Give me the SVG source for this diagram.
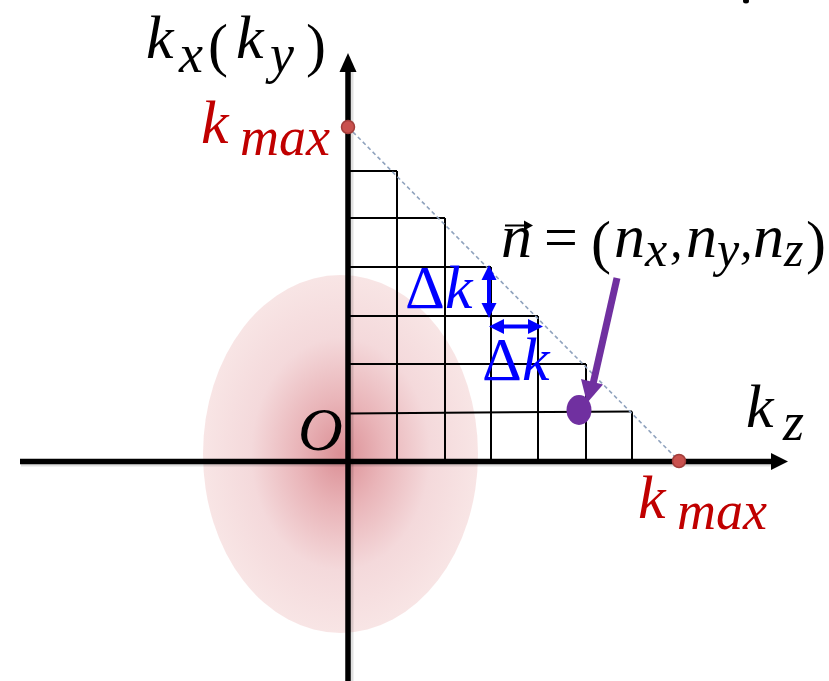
<svg xmlns="http://www.w3.org/2000/svg" width="829" height="681" viewBox="0 0 829 681">
<defs>
<radialGradient id="glow" cx="0.5" cy="0.5" r="0.5">
<stop offset="0" stop-color="#db8f95"/>
<stop offset="0.3" stop-color="#e9b4b8"/>
<stop offset="0.65" stop-color="#f4d9db"/>
<stop offset="1" stop-color="#f8e5e5"/>
</radialGradient>
<style>
.m{font-family:"Liberation Serif","DejaVu Serif",serif;font-style:italic;font-size:62px;fill:#000}
.s{font-size:54px}
.c{font-size:50px}
.u{font-family:"Liberation Serif","DejaVu Serif",serif;font-style:normal;font-size:60px;fill:#000}
.up{font-style:normal}
.red{fill:#c00000}
.blue{fill:#0000ff}
.grid{stroke:#000;stroke-width:2;fill:none}
.axis{stroke:#000;stroke-width:5.5;fill:none}
.shadow{stroke:#000;stroke-width:5;opacity:0.12;fill:none}
.dot{fill:#c9514e;stroke:#a23d3a;stroke-width:1.5}
.barrow{stroke:#0000ff;stroke-width:4}
</style>
</defs>
<rect width="829" height="681" fill="#fff"/>
<g id="cloud">
<ellipse cx="340.5" cy="454" rx="137.5" ry="179" fill="url(#glow)"/>
</g>
<g id="grid">
<path class="grid" d="M348 171H397M348 218H445M348 267H491M348 316H538M348 364H586M348 413.5L632 411.5"/>
<path class="grid" d="M397 171V461M445 218V461M491 267V461M538 316V461M586 364V461M632 411.5V461"/>
</g>
<g id="diagonal">
<line x1="348" y1="127" x2="679" y2="461" stroke="#8fa2bd" stroke-width="1.6" stroke-dasharray="4 3"/>
</g>
<g id="axes">
<line class="shadow" x1="21" y1="464" x2="772" y2="464"/>
<line class="shadow" x1="351" y1="72" x2="351" y2="681"/>
<line class="axis" x1="20" y1="461.5" x2="774" y2="461.5"/>
<polygon points="788,461.5 771,453 771,470" fill="#000"/>
<line class="axis" x1="348" y1="70" x2="348" y2="681"/>
<polygon points="348,53 339.5,72 356.5,72" fill="#000"/>
</g>
<g id="kmax-points">
<circle class="dot" cx="348" cy="127" r="6.5"/>
<circle class="dot" cx="679" cy="461" r="6.5"/>
</g>
<g id="delta-arrows">
<line class="barrow" x1="489" y1="276" x2="489" y2="307"/>
<polygon points="489,265 481.5,280 496.5,280" class="blue"/>
<polygon points="489,318 481.5,303 496.5,303" class="blue"/>
<line class="barrow" x1="500" y1="326.5" x2="532" y2="326.5"/>
<polygon points="489,326.5 504,319 504,334" class="blue"/>
<polygon points="543,326.5 528,319 528,334" class="blue"/>
</g>
<g id="n-pointer">
<line x1="617" y1="278" x2="593" y2="384" stroke="#7030a0" stroke-width="7"/>
<polygon points="587,403 603,384.5 581,379" fill="#7030a0"/>
<ellipse cx="579" cy="410" rx="12.5" ry="15" fill="#7030a0"/>
</g>
<g id="vector-accent">
<line x1="505" y1="225.5" x2="528" y2="225.5" stroke="#000" stroke-width="2"/>
<polygon points="533,225.5 524,220.5 524,230.5" fill="#000"/>
</g>
<g id="labels">
<text class="m"><tspan x="146" y="58">k</tspan><tspan class="s" x="179" y="72">x</tspan></text>
<text class="u" x="208" y="65" font-size="80">(</text>
<text class="m"><tspan x="236" y="58">k</tspan><tspan class="s" x="270" y="72">y</tspan></text>
<text class="u" x="306" y="65" font-size="80">)</text>
<text class="m red"><tspan x="201" y="143">k</tspan><tspan class="s" x="240" y="155">max</tspan></text>
<text class="m red"><tspan x="638" y="518">k</tspan><tspan class="s" x="677" y="529">max</tspan></text>
<text class="m"><tspan x="746" y="427">k</tspan><tspan class="s" x="783" y="440">z</tspan></text>
<text class="m" x="298" y="450">O</text>
<text class="m blue" x="405" y="308"><tspan class="up">Δ</tspan>k</text>
<text class="m blue" x="482" y="380"><tspan class="up">Δ</tspan>k</text>
<text class="m" x="501" y="257">n</text>
<text class="u" x="544" y="257">=</text>
<text class="u" x="591" y="262" font-size="64">(</text>
<text class="m"><tspan x="614" y="257">n</tspan><tspan class="c" x="645" y="266">x</tspan><tspan class="c" x="670" y="257">,</tspan><tspan x="686" y="257">n</tspan><tspan class="c" x="717" y="266">y</tspan><tspan class="c" x="740" y="257">,</tspan><tspan x="753" y="257">n</tspan><tspan class="c" x="784" y="266">z</tspan></text>
<text class="u" x="806" y="262" font-size="64">)</text>
</g>
<g id="edge-mark">
<ellipse cx="746" cy="1" rx="3" ry="2.5" fill="#000"/>
</g>
</svg>
